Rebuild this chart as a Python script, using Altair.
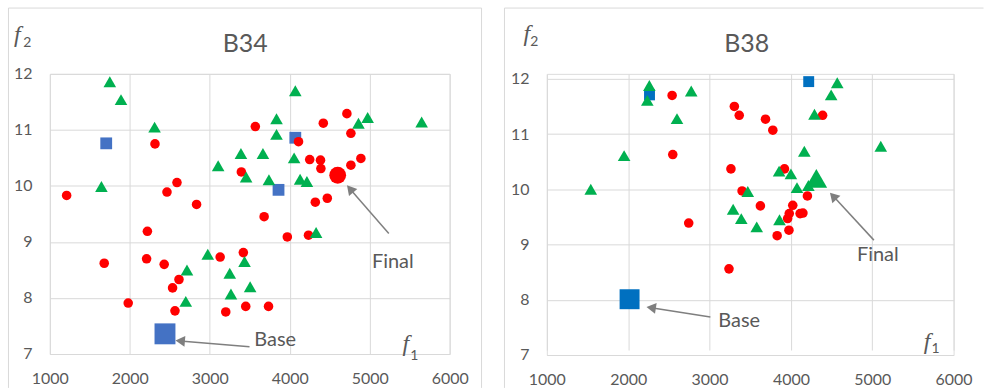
import math
import altair as alt
import pandas as pd

# ---------------- data ----------------
X_TICKS = [1000, 2000, 3000, 4000, 5000, 6000]
Y_TICKS = [7, 8, 9, 10, 11, 12]

# Panel B34
b34_tri_x = [1750, 1890, 2310, 1645, 4070, 3835, 3835, 3390, 3665, 3105, 3455, 3740, 4055,
             4130, 4215, 4860, 4975, 5650, 4330, 2975, 3435, 2715, 3250, 3505, 3265, 2700]
b34_tri_y = [11.86, 11.54, 11.05, 9.99, 11.70, 11.20, 10.92, 10.58, 10.58, 10.36, 10.16, 10.11, 10.50,
             10.12, 10.08, 11.12, 11.22, 11.14, 9.17, 8.78, 8.65, 8.50, 8.44, 8.20, 8.07, 7.94]
b34_circ_x = [1210, 2315, 2465, 2590, 2835, 2220, 1680, 2210, 2430, 2615, 2535, 1980, 2565, 3130,
              3420, 3200, 3450, 3735, 3680, 3970, 4235, 3395, 3570, 4110, 4250, 4385, 4390, 4320,
              4470, 4420, 4715, 4765, 4765, 4890]
b34_circ_y = [9.83, 10.75, 9.89, 10.06, 9.67, 9.19, 8.62, 8.70, 8.60, 8.33, 8.18, 7.91, 7.77, 8.73,
              8.81, 7.75, 7.85, 7.85, 9.45, 9.09, 9.12, 10.25, 11.06, 10.79, 10.47, 10.46, 10.31, 9.71,
              9.78, 11.12, 11.29, 10.94, 10.37, 10.49]
b34_sq_x = [1705, 4070, 3860]
b34_sq_y = [10.76, 10.86, 9.93]
b34_base = [2440, 7.36]
b34_final = [4600, 10.19]

# Panel B38
b38_tri_x = [2260, 2235, 2775, 2600, 1950, 1540, 4570, 4495, 4290, 4165, 5105, 3855, 4000, 4075,
             4215, 3470, 3290, 3390, 3580, 3860]
b38_tri_y = [11.88, 11.61, 11.78, 11.28, 10.61, 10.00, 11.93, 11.71, 11.36, 10.69, 10.78, 10.33, 10.28,
             10.03, 10.07, 9.96, 9.64, 9.47, 9.32, 9.45]
b38_circ_x = [2540, 3305, 3365, 3688, 3778, 4390, 2548, 3263, 3921, 3400, 3625, 2744, 3239, 3831,
              3976, 4023, 3980, 3960, 4113, 4148, 4203]
b38_circ_y = [11.70, 11.50, 11.34, 11.27, 11.07, 11.34, 10.63, 10.37, 10.37, 9.97, 9.70, 9.39, 8.56,
              9.16, 9.26, 9.71, 9.56, 9.47, 9.56, 9.57, 9.88]
b38_sq_x = [2262, 4219]
b38_sq_y = [11.71, 11.95]
b38_base = [2017, 8.01]
b38_final = [4313, 10.20]

# annotations: label text, label position, arrow tail, arrow head (data units)
b34_notes = [("Final", [5289, 8.53], [5239, 9.15], [4716, 10.01]),
             ("Base", [3818, 7.14], [3497, 7.13], [2571, 7.24])]
b38_notes = [("Final", [5069, 8.70], [5020, 9.08], [4480, 9.94]),
             ("Base", [3365, 7.51], [3010, 7.69], [2225, 7.87])]

# ---------------- style ----------------
GRID = "#D9D9D9"
TEXT = "#595959"
ARROW = "#7F7F7F"
RED = "#FF0000"
GREEN = "#00B050"
FONT = "Lato"
MATH_FONT = "Liberation Serif"
ONE = pd.DataFrame({"k": [0]})


def make_enc(yrange):
    def xenc():
        return alt.X("x:Q", scale=alt.Scale(domain=[1000, 6000], nice=False, zero=False),
                     axis=alt.Axis(values=X_TICKS, title=None, grid=True, gridColor=GRID, gridWidth=1,
                                   domain=False, ticks=False, labelPadding=17, labelFontSize=16,
                                   labelColor=TEXT, labelFont=FONT, format="d", labelFlush=False))

    def yenc():
        return alt.Y("y:Q", scale=alt.Scale(domain=[7, 12], nice=False, zero=False, range=yrange),
                     axis=alt.Axis(values=Y_TICKS, title=None, grid=True, gridColor=GRID, gridWidth=1,
                                   domain=False, ticks=False, labelPadding=18, labelFontSize=16,
                                   labelColor=TEXT, labelFont=FONT, format="d"))
    return xenc, yenc


def txt(s, x, y, size, font=FONT, style="normal"):
    return alt.Chart(ONE).mark_text(text=s, font=font, fontSize=size, color=TEXT, align="center",
                                    baseline="alphabetic", fontStyle=style).encode(
        x=alt.value(x), y=alt.value(y))


def vrule(x, y1, y2, color=GRID):
    return alt.Chart(ONE).mark_rule(color=color, strokeWidth=1).encode(
        x=alt.value(x), y=alt.value(y1), y2=alt.value(y2))


def hrule(x1, x2, y, color=GRID):
    return alt.Chart(ONE).mark_rule(color=color, strokeWidth=1).encode(
        x=alt.value(x1), x2=alt.value(x2), y=alt.value(y))


def panel(title, W, H, yrange, sq_x, sq_y, blue, circ_x, circ_y, tri_x, tri_y, base, final,
          final_shape, final_size, final_color, base_size, sq_size, notes, deco, t_pos, f2_pos, f1_pos):
    xenc, yenc = make_enc(yrange)

    def sym(xs, ys, shape, size, color):
        df = pd.DataFrame({"x": xs, "y": ys})
        return alt.Chart(df).mark_point(shape=shape, size=size, filled=True, color=color,
                                        opacity=1, strokeWidth=0).encode(x=xenc(), y=yenc())

    # arrows and labels
    px = W / 5000.0
    py = (yrange[0] - yrange[1]) / 5.0
    hsize = 120
    h = 0.433 * math.sqrt(hsize)
    rules, heads, labels = [], [], []
    for text, lab, tail, head in notes:
        dx = (head[0] - tail[0]) * px
        dy = -(head[1] - tail[1]) * py
        L = math.hypot(dx, dy)
        ux, uy = dx / L, dy / L
        cx = head[0] - h * ux / px
        cy = head[1] + h * uy / py
        ang = math.degrees(math.atan2(dx, -dy)) % 360
        rules.append({"x": tail[0], "y": tail[1], "x2": cx, "y2": cy})
        heads.append({"x": cx, "y": cy, "a": ang})
        labels.append({"x": lab[0], "y": lab[1], "t": text})

    layers = list(deco)
    layers.append(sym(sq_x, sq_y, "square", sq_size, blue))
    layers.append(sym([base[0]], [base[1]], "square", base_size, blue))
    layers.append(sym(circ_x, circ_y, "circle", 92, RED))
    layers.append(sym(tri_x, tri_y, "triangle-up", 160, GREEN))
    layers.append(sym([final[0]], [final[1]], final_shape, final_size, final_color))
    layers.append(alt.Chart(pd.DataFrame(rules)).mark_rule(color=ARROW, strokeWidth=1.5).encode(
        x=xenc(), y=yenc(), x2="x2:Q", y2="y2:Q"))
    layers.append(alt.Chart(pd.DataFrame(heads)).mark_point(
        shape="triangle-up", size=hsize, filled=True, color=ARROW, opacity=1, strokeWidth=0).encode(
        x=xenc(), y=yenc(), angle=alt.Angle("a:Q", scale=None)))
    layers.append(alt.Chart(pd.DataFrame(labels)).mark_text(
        font=FONT, fontSize=20, color=TEXT, align="center", baseline="alphabetic").encode(
        x=xenc(), y=yenc(), text="t:N"))
    layers.append(txt(title, t_pos[0], t_pos[1], 25))
    layers.append(txt("f", f2_pos[0], f2_pos[1], 24, MATH_FONT, "italic"))
    layers.append(txt("2", f2_pos[2], f2_pos[3], 14))
    layers.append(txt("f", f1_pos[0], f1_pos[1], 24, MATH_FONT, "italic"))
    layers.append(txt("1", f1_pos[2], f1_pos[3], 14))
    return alt.layer(*layers).properties(width=W, height=H)


left = panel(
    "B34", 401, 281, [281, 0], b34_sq_x, b34_sq_y, "#4472C4", b34_circ_x, b34_circ_y,
    b34_tri_x, b34_tri_y, b34_base, b34_final, "circle", 285, RED, 440, 140, b34_notes,
    [vrule(-47.5, -66, 315, "white"),
     vrule(-41.5, -66, 315), hrule(-41.5, 433, -66), vrule(433, -66, 315)],
    (196, -22), (-32.5, -32, -22.5, -26.5), (357, 278, 365.5, 287))

right = panel(
    "B38", 408, 282, [282, 5], b38_sq_x, b38_sq_y, "#0070C0", b38_circ_x, b38_circ_y,
    b38_tri_x, b38_tri_y, b38_base, b38_final, "triangle-up", 470, GREEN, 400, 120, b38_notes,
    [vrule(-42.5, -66, 315), hrule(-42.5, 438, -66)],
    (200.5, -22), (-20, -33, -12.5, -28), (381.5, 276, 390, 280))

chart = alt.hconcat(left, right, spacing=20.5).properties(
    padding={"left": 1, "top": 6.5, "right": 0, "bottom": 0}
).configure_view(stroke=None).configure(background="white")

chart.save("out.html", embed_options={"renderer": "svg", "actions": False})
